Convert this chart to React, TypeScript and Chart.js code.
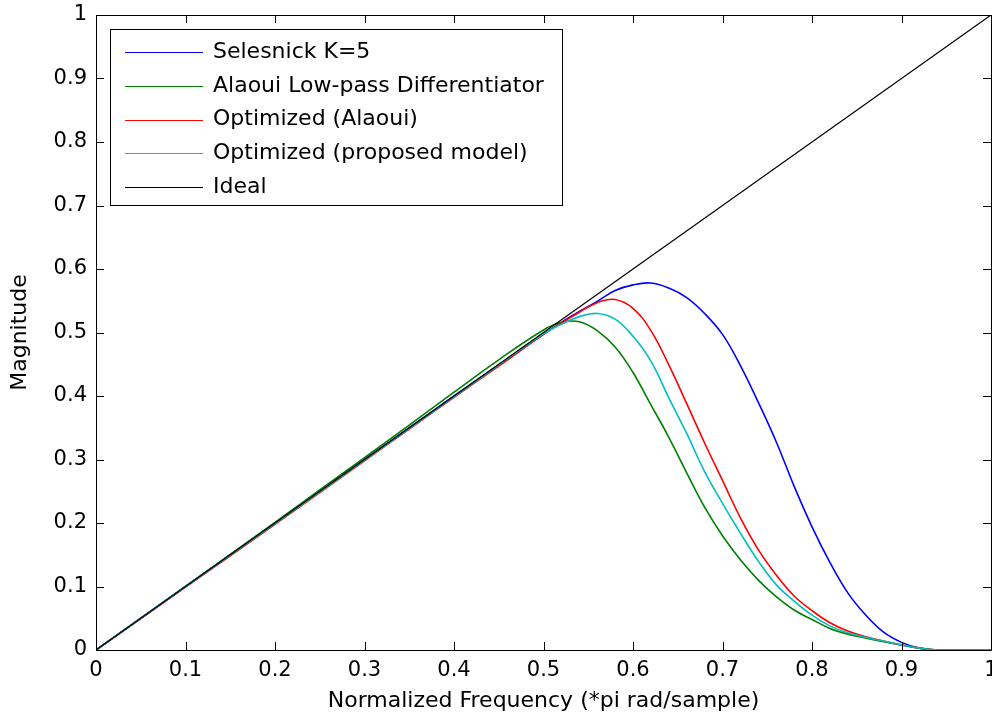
import React, { useEffect, useRef } from "react";
import { Chart, registerables } from "chart.js";

Chart.register(...registerables);

// Normalized frequency (*pi rad/sample)
const freq = [0, 0.1, 0.2, 0.3, 0.35, 0.4, 0.45, 0.5, 0.52, 0.54, 0.56, 0.58, 0.6, 0.62, 0.64, 0.66, 0.68, 0.7, 0.72, 0.74, 0.76, 0.78, 0.8, 0.82, 0.84, 0.86, 0.88, 0.9, 0.92, 0.94, 1.0];

const selesnick = [0, 0.1, 0.2, 0.3, 0.35, 0.4, 0.449, 0.497, 0.516, 0.533, 0.549, 0.566, 0.575, 0.578, 0.57, 0.555, 0.53, 0.497, 0.448, 0.39, 0.328, 0.258, 0.194, 0.138, 0.09, 0.055, 0.028, 0.012, 0.003, 0, 0];
const alaouiLPD = [0, 0.1, 0.201, 0.303, 0.354, 0.406, 0.457, 0.504, 0.516, 0.517, 0.503, 0.477, 0.437, 0.386, 0.335, 0.279, 0.225, 0.18, 0.142, 0.11, 0.084, 0.063, 0.048, 0.034, 0.025, 0.019, 0.013, 0.008, 0.003, 0, 0];
const optimizedAlaoui = [0, 0.099, 0.198, 0.298, 0.348, 0.398, 0.447, 0.497, 0.515, 0.532, 0.547, 0.552, 0.538, 0.503, 0.449, 0.388, 0.326, 0.267, 0.208, 0.158, 0.118, 0.085, 0.062, 0.043, 0.03, 0.021, 0.014, 0.008, 0.003, 0, 0];
const optimizedProposed = [0, 0.1, 0.199, 0.299, 0.349, 0.399, 0.449, 0.498, 0.513, 0.525, 0.53, 0.521, 0.494, 0.455, 0.397, 0.341, 0.281, 0.231, 0.184, 0.14, 0.103, 0.077, 0.055, 0.038, 0.027, 0.02, 0.014, 0.008, 0.003, 0, 0];
const idealFreq = [0, 1];
const idealMag = [0, 1];

const seriesLabels = [
  "Selesnick K=5",
  "Alaoui Low-pass Differentiator",
  "Optimized (Alaoui)",
  "Optimized (proposed model)",
  "Ideal",
];
const seriesColors = ["#0000ff", "#008000", "#ff0000", "#00bfbf", "#000000"];

const xTitle = "Normalized Frequency (*pi rad/sample)";
const yTitle = "Magnitude";

const FONT = "'DejaVu Sans', sans-serif";

const toPoints = (xs: number[], ys: number[]) => xs.map((x, i) => ({ x, y: ys[i] }));

const boxPlugin = {
  id: "matlabBox",
  afterDatasetsDraw(chart: any) {
    const { ctx, chartArea: a, scales } = chart;
    ctx.save();
    ctx.strokeStyle = "#000";
    ctx.lineWidth = 1;
    ctx.beginPath();
    ctx.rect(Math.round(a.left) + 0.5, Math.round(a.top) + 0.5, Math.round(a.right - a.left), Math.round(a.bottom - a.top));
    ctx.stroke();
    const tl = 8;
    ctx.beginPath();
    scales.x.ticks.forEach((t: any) => {
      const px = Math.round(scales.x.getPixelForValue(t.value)) + 0.5;
      ctx.moveTo(px, a.bottom);
      ctx.lineTo(px, a.bottom - tl);
      ctx.moveTo(px, a.top);
      ctx.lineTo(px, a.top + tl);
    });
    scales.y.ticks.forEach((t: any) => {
      const py = Math.round(scales.y.getPixelForValue(t.value)) + 0.5;
      ctx.moveTo(a.left, py);
      ctx.lineTo(a.left + tl, py);
      ctx.moveTo(a.right, py);
      ctx.lineTo(a.right - tl, py);
    });
    ctx.stroke();
    ctx.restore();
  },
  afterDraw(chart: any) {
    const { ctx, chartArea: a } = chart;
    const bx = Math.round(a.left) + 14;
    const by = Math.round(a.top) + 14;
    const bw = 452;
    const bh = 176;
    ctx.save();
    ctx.fillStyle = "#fff";
    ctx.fillRect(bx, by, bw, bh);
    ctx.strokeStyle = "#000";
    ctx.lineWidth = 1;
    ctx.strokeRect(bx + 0.5, by + 0.5, bw, bh);
    ctx.font = `22px ${FONT}`;
    ctx.textBaseline = "middle";
    ctx.textAlign = "left";
    chart.data.datasets.forEach((ds: any, i: number) => {
      const cy = by + 23 + i * 33.8;
      ctx.strokeStyle = ds.borderColor;
      ctx.lineWidth = 1;
      ctx.beginPath();
      ctx.moveTo(bx + 15, Math.round(cy) + 0.5);
      ctx.lineTo(bx + 93, Math.round(cy) + 0.5);
      ctx.stroke();
      ctx.fillStyle = "#000";
      ctx.fillText(ds.label, bx + 103, cy);
    });
    ctx.restore();
  },
};

export default function App() {
  const canvasRef = useRef<HTMLCanvasElement | null>(null);

  useEffect(() => {
    document.body.style.margin = "0";
    const canvas = canvasRef.current;
    if (!canvas) return;
    const seriesData = [selesnick, alaouiLPD, optimizedAlaoui, optimizedProposed];
    const datasets: any[] = seriesData.map((ys, i) => ({
      label: seriesLabels[i],
      data: toPoints(freq, ys),
      borderColor: seriesColors[i],
      backgroundColor: seriesColors[i],
      borderWidth: 1.6,
      pointRadius: 0,
      fill: false,
      tension: 0.4,
      order: 4 - i,
    }));
    datasets.push({
      label: seriesLabels[4],
      data: toPoints(idealFreq, idealMag),
      borderColor: seriesColors[4],
      backgroundColor: seriesColors[4],
      borderWidth: 1.2,
      pointRadius: 0,
      fill: false,
      order: 0,
    });

    const chart = new Chart(canvas, {
      type: "line",
      data: { datasets },
      options: {
        responsive: false,
        animation: false,
        layout: { padding: { left: 0, right: 1, top: 15, bottom: 0 } },
        plugins: { legend: { display: false }, tooltip: { enabled: false } },
        scales: {
          x: {
            type: "linear",
            min: 0,
            max: 1,
            grid: { display: false, drawTicks: false },
            border: { display: false },
            ticks: {
              stepSize: 0.1,
              padding: 8,
              maxRotation: 0,
              autoSkip: false,
              color: "#000",
              font: { family: FONT, size: 21 },
              callback: (v: any) => String(Math.round(Number(v) * 10) / 10),
            },
            title: {
              display: true,
              text: xTitle,
              color: "#000",
              font: { family: FONT, size: 22 },
              padding: { top: 0, bottom: 4 },
            },
            afterFit: (s: any) => {
              s.height = 68;
              s.paddingLeft = 0;
              s.paddingRight = 0;
            },
          },
          y: {
            type: "linear",
            min: 0,
            max: 1,
            grid: { display: false, drawTicks: false },
            border: { display: false },
            ticks: {
              stepSize: 0.1,
              padding: 9,
              autoSkip: false,
              color: "#000",
              font: { family: FONT, size: 21 },
              callback: (v: any) => String(Math.round(Number(v) * 10) / 10),
            },
            title: {
              display: true,
              text: yTitle,
              color: "#000",
              font: { family: FONT, size: 22 },
              padding: { top: 7, bottom: 0 },
            },
            afterFit: (s: any) => {
              s.width = 96;
              s.paddingTop = 0;
              s.paddingBottom = 0;
            },
          },
        },
      },
      plugins: [boxPlugin],
    });
    return () => chart.destroy();
  }, []);

  return (
    <div style={{ position: "absolute", left: 0, top: 0, width: 992, height: 718, background: "#fff" }}>
      <canvas ref={canvasRef} width={992} height={718} />
    </div>
  );
}
